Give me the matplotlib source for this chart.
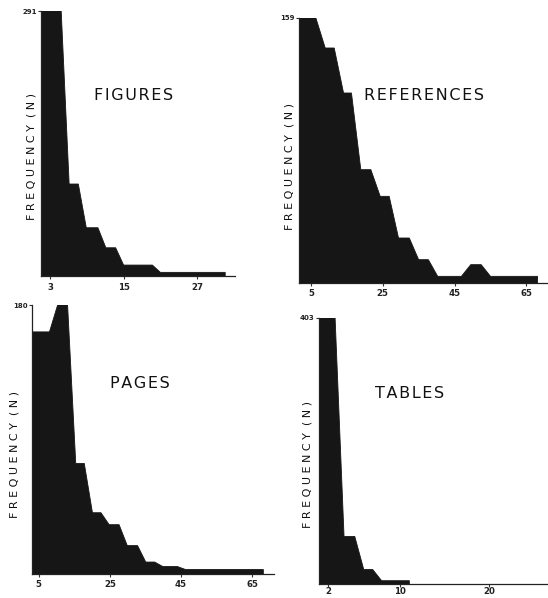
import matplotlib
matplotlib.use("Agg")
import matplotlib.pyplot as plt

# ---------------- data ----------------
# FIGURES
fig_edges = [1.5, 4.8, 7.6, 10.8, 13.7, 19.7, 31.6]
fig_counts = [291, 101, 53, 31, 12, 4]
fig_xticks = [3, 15, 27]

# REFERENCES
ref_edges = [1.7, 6.4, 11.5, 16.3, 21.7, 26.8, 32.4, 37.7, 46.9, 52.4, 68.1]
ref_counts = [159, 141, 114, 68, 52, 27, 14, 4, 11, 4]
ref_xticks = [5, 25, 45, 65]

# PAGES
pag_edges = [3.3, 8.0, 13.1, 17.8, 22.5, 27.6, 32.8, 37.6, 44.0, 68.2]
pag_counts = [162, 180, 74, 41, 33, 19, 8, 5, 3]
pag_xticks = [5, 25, 45, 65]

# TABLES
tab_edges = [1.1, 2.8, 5.0, 7.0, 11.1]
tab_counts = [403, 72, 22, 5]
tab_xticks = [2, 10, 20]

FILL = "#161616"


def outline(edges, counts, ramp):
    """Frequency outline: flat tops with slanted steps between bins."""
    xs = [edges[0], edges[0]]
    ys = [0, counts[0]]
    for i, c in enumerate(counts):
        if i > 0:
            xs.append(edges[i] + ramp)
            ys.append(c)
        xs.append(edges[i + 1])
        ys.append(c)
    xs.append(edges[-1])
    ys.append(0)
    return xs, ys


fig = plt.figure(figsize=(5.48, 5.98), dpi=100)
W, H = 548.0, 598.0


def px_axes(left, top, right, bottom):
    return fig.add_axes([left / W, 1 - bottom / H, (right - left) / W, (bottom - top) / H])


def spaced(s):
    return " ".join(s)


panels = [
    # edges, counts, ramp, xticks, xlim, axes px (l,t,r,b), title, title pos px, ylabel pos px, xtick pad
    (fig_edges, fig_counts, 1.3, fig_xticks, (1.5, 33.2), (41, 11, 235, 276),
     "FIGURES", (134, 96), (31, 156), 3.0),
    (ref_edges, ref_counts, 2.6, ref_xticks, (1.7, 71.0), (299, 18, 548, 283),
     "REFERENCES", (424, 96), (289, 167), 2.5),
    (pag_edges, pag_counts, 2.3, pag_xticks, (3.0, 71.2), (31.7, 305, 274, 574),
     "PAGES", (140, 384), (15, 455), 2.5),
    (tab_edges, tab_counts, 1.0, tab_xticks, (1.0, 26.6), (319, 318, 548, 584),
     "TABLES", (410, 393), (307, 465), 0.3),
]

for edges, counts, ramp, xticks, xlim, box, title, tpos, lpos, xpad in panels:
    ax = px_axes(*box)
    xs, ys = outline(edges, counts, ramp)
    ax.fill(xs, ys, color=FILL, lw=0.6, ec=FILL)
    top = max(counts)
    ax.set_xlim(*xlim)
    ax.set_ylim(0, top)
    ax.set_xticks(xticks)
    ax.set_xticklabels([str(t) for t in xticks], fontsize=6.2, fontweight="bold", color="#222222")
    ax.set_yticks([top])
    ax.set_yticklabels([str(top)], fontsize=5, fontweight="bold", color="#222222")
    ax.tick_params(axis="x", length=2.0, width=0.8, pad=xpad, color="#333333")
    ax.tick_params(axis="y", length=2, width=0.8, pad=1, color="#333333")
    for side in ("top", "right"):
        ax.spines[side].set_visible(False)
    for side in ("left", "bottom"):
        ax.spines[side].set_linewidth(0.9)
        ax.spines[side].set_color("#222222")
    ax.patch.set_alpha(0)
    fig.text(tpos[0] / W, 1 - tpos[1] / H, "\u200a".join(title), fontsize=11.5,
             ha="center", va="center", color="#111111")
    fig.text(lpos[0] / W, 1 - lpos[1] / H, spaced("FREQUENCY") + "  " + spaced("(N)"),
             fontsize=8, rotation=90, ha="center", va="center", color="#111111")

fig.savefig("out.png", dpi=100)
